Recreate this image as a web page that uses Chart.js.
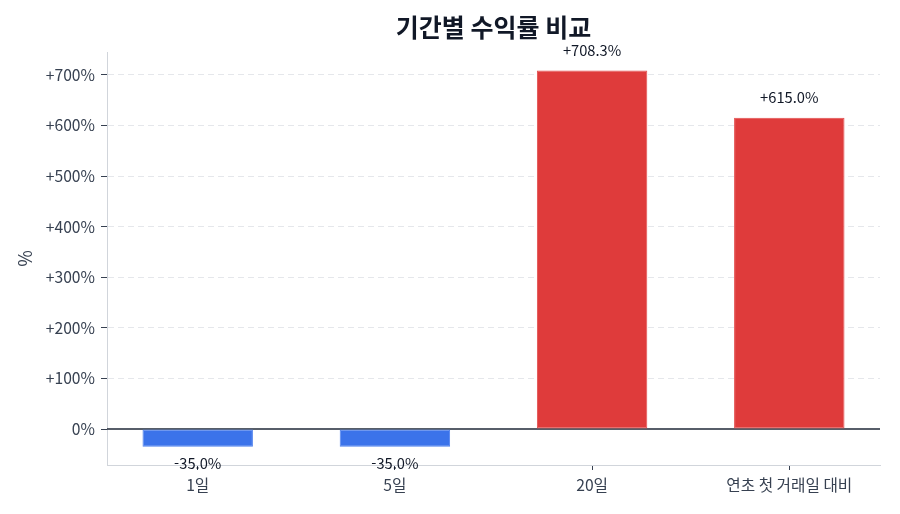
<!DOCTYPE html>
<html lang="ko">
<head>
    <meta charset="UTF-8">
    <title>기간별 수익률 비교</title>
    <style>
        html, body { margin: 0; padding: 0; background: #fff; }
        #wrap { width: 900px; height: 514px; }
    </style>
</head>
<body>
    <div id="wrap"><canvas id="returnChart" width="900" height="514"></canvas></div>
    <script src="https://cdn.jsdelivr.net/npm/chart.js"></script>
    <script>
    // Chart data
    const periods = ['1일', '5일', '20일', '연초 첫 거래일 대비'];
    const returns = [-35.0, -35.0, 708.3, 615.0];
    const yTicks = [0, 100, 200, 300, 400, 500, 600, 700];

    const FONT = "'Noto Sans CJK KR', 'Noto Sans', sans-serif";
    const barFill = returns.map(v => v < 0 ? '#3b73ea' : '#df3b3b');
    const barEdge = returns.map(v => v < 0 ? '#4f82ee' : '#e34d4d');

    function fmtPct(v) {
        return (v > 0 ? '+' : '') + v.toFixed(1) + '%';
    }

    // Zero line + value labels above / below each bar
    const barLabels = {
        id: 'barLabels',
        beforeDatasetsDraw(chart) {
            const { ctx, chartArea, scales } = chart;
            const y0 = scales.y.getPixelForValue(0);
            ctx.save();
            ctx.strokeStyle = '#1f2937';
            ctx.lineWidth = 1.5;
            ctx.beginPath();
            ctx.moveTo(chartArea.left, y0);
            ctx.lineTo(chartArea.right, y0);
            ctx.stroke();
            ctx.restore();
        },
        afterDatasetsDraw(chart) {
            const { ctx } = chart;
            const meta = chart.getDatasetMeta(0);
            ctx.save();
            ctx.font = '14.7px ' + FONT;
            ctx.fillStyle = '#111827';
            ctx.textAlign = 'center';
            ctx.textBaseline = 'middle';
            meta.data.forEach((bar, i) => {
                const v = returns[i];
                const y = v >= 0 ? bar.y - 20 : bar.y + 17;
                ctx.fillText(fmtPct(v), bar.x, y);
            });
            ctx.restore();
        }
    };

    new Chart(document.getElementById('returnChart'), {
        type: 'bar',
        data: {
            datasets: [{
                data: returns.map((v, i) => ({ x: i, y: v })),
                backgroundColor: barFill,
                borderColor: barEdge,
                borderWidth: 1,
                borderSkipped: false,
                categoryPercentage: 1,
                barPercentage: 0.56
            }]
        },
        plugins: [barLabels],
        options: {
            responsive: false,
            animation: false,
            layout: { padding: { left: 8, right: 20, top: 0, bottom: 0 } },
            plugins: {
                legend: { display: false },
                tooltip: { enabled: false },
                title: {
                    display: true,
                    text: '기간별 수익률 비교',
                    fullSize: false,
                    color: '#111827',
                    font: { family: FONT, size: 25, weight: 'bold' },
                    padding: { top: 12, bottom: 10 }
                }
            },
            scales: {
                x: {
                    type: 'linear',
                    min: -0.46,
                    max: 3.46,
                    offset: false,
                    grid: {
                        offset: false,
                        drawOnChartArea: false,
                        drawTicks: true,
                        tickLength: 5,
                        tickColor: '#374151'
                    },
                    border: { display: true, color: '#d1d5db', width: 1 },
                    ticks: {
                        stepSize: 1,
                        includeBounds: false,
                        autoSkip: false,
                        maxRotation: 0,
                        padding: 6,
                        color: '#374151',
                        font: { family: FONT, size: 15.7 },
                        callback: v => periods[v] ?? ''
                    },
                    afterFit: s => { s.height = 49; }
                },
                y: {
                    min: -71,
                    max: 745,
                    afterBuildTicks: s => { s.ticks = yTicks.map(v => ({ value: v })); },
                    grid: {
                        color: c => c.tick && c.tick.value === 0 ? 'rgba(0,0,0,0)' : '#e5e7eb',
                        lineWidth: 1,
                        drawTicks: true,
                        tickLength: 6,
                        tickColor: '#374151'
                    },
                    border: { display: true, color: '#d1d5db', width: 1, dash: [6, 4] },
                    ticks: {
                        padding: 6,
                        color: '#374151',
                        font: { family: FONT, size: 15.7 },
                        callback: v => v === 0 ? '0%' : '+' + v + '%'
                    },
                    title: {
                        display: true,
                        text: '%',
                        color: '#374151',
                        font: { family: FONT, size: 18 },
                        padding: { top: 6, bottom: 0 }
                    },
                    afterFit: s => { s.width = 99; }
                }
            }
        }
    });
    </script>
</body>
</html>
